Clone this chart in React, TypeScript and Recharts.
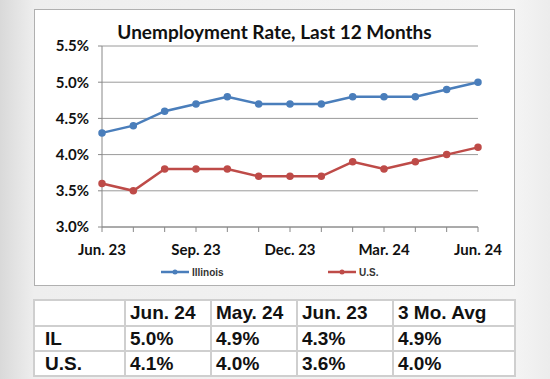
import { LineChart, Line, XAxis, YAxis, CartesianGrid, Legend } from 'recharts'

const MONTHS = [
  'Jun. 23', 'Jul. 23', 'Aug. 23', 'Sep. 23', 'Oct. 23', 'Nov. 23', 'Dec. 23',
  'Jan. 24', 'Feb. 24', 'Mar. 24', 'Apr. 24', 'May. 24', 'Jun. 24',
]
const ILLINOIS = [4.3, 4.4, 4.6, 4.7, 4.8, 4.7, 4.7, 4.7, 4.8, 4.8, 4.8, 4.9, 5.0]
const US = [3.6, 3.5, 3.8, 3.8, 3.8, 3.7, 3.7, 3.7, 3.9, 3.8, 3.9, 4.0, 4.1]
const LABELED = ['Jun. 23', 'Sep. 23', 'Dec. 23', 'Mar. 24', 'Jun. 24']
const Y_TICKS = [3.0, 3.5, 4.0, 4.5, 5.0, 5.5]

const TABLE_HEAD = ['', 'Jun. 24', 'May. 24', 'Jun. 23', '3 Mo. Avg']
const TABLE_ROWS = [
  ['IL', '5.0%', '4.9%', '4.3%', '4.9%'],
  ['U.S.', '4.1%', '4.0%', '3.6%', '4.0%'],
]
const COL_WIDTHS = [91, 86, 86, 96, 122]
const ROW_HEIGHTS = [26, 25, 25]

const data = MONTHS.map((m, i) => ({ month: m, il: ILLINOIS[i], us: US[i] }))

const BLUE = '#4a7ebb'
const RED = '#be4b48'
const FONT = 'Lato, "Open Sans", sans-serif'

const LegendItem = ({ color, label, left }: { color: string; label: string; left: number }) => (
  <div style={{ position: 'absolute', left, top: 0, display: 'flex', alignItems: 'center', height: 12 }}>
    <svg width={29} height={10}>
      <line x1={0} y1={5} x2={28} y2={5} stroke={color} strokeWidth={2.5} />
      <circle cx={14} cy={5} r={2.5} fill={color} />
    </svg>
    <span style={{ marginLeft: 2 }}>{label}</span>
  </div>
)

const renderLegend = () => (
  <div style={{ position: 'relative', height: 12, fontFamily: 'Arial, "Liberation Sans"', fontSize: 10, fontWeight: 'bold', color: '#333' }}>
    <LegendItem color={BLUE} label='Illinois' left={127} />
    <LegendItem color={RED} label='U.S.' left={294} />
  </div>
)

export default function App() {
  return (
    <div
      style={{
        position: 'absolute',
        left: 0,
        top: 0,
        width: 550,
        height: 379,
        overflow: 'hidden',
        background: 'linear-gradient(to right, #d9d9d9 0px, #eeeeee 34px, #f4f4f4 515px, #ececec 550px)',
      }}
    >
      <div
        style={{
          position: 'absolute',
          left: 34,
          top: 9,
          width: 481,
          height: 277,
          boxSizing: 'border-box',
          background: '#fff',
          border: '1px solid #b0b0b0',
        }}
      >
        <div
          style={{
            position: 'absolute',
            left: 0,
            width: '100%',
            top: 10,
            textAlign: 'center',
            fontFamily: FONT,
            fontWeight: 'bold',
            fontSize: 19,
            color: '#111',
          }}
        >
          Unemployment Rate, Last 12 Months
        </div>
        <div style={{ position: 'absolute', left: -1, top: -1 }}>
          <LineChart
            width={481}
            height={277}
            data={data}
            margin={{ top: 37, right: 37, left: 8, bottom: 29 }}
          >
            <CartesianGrid vertical={false} stroke='#9a9a9a' strokeWidth={1} />
            <XAxis
              dataKey='month'
              interval={0}
              height={30}
              stroke='#888'
              tickSize={5}
              tickLine={{ stroke: '#888' }}
              tick={{ fill: '#111', fontFamily: FONT, fontWeight: 'bold', fontSize: 15 }}
              tickFormatter={(v: string) => (LABELED.includes(v) ? v : '')}
              dy={10}
            />
            <YAxis
              width={60}
              domain={[3.0, 5.5]}
              ticks={Y_TICKS}
              stroke='#888'
              tickSize={4}
              tick={{ fill: '#111', fontFamily: FONT, fontWeight: 'bold', fontSize: 15 }}
              tickFormatter={(v: number) => v.toFixed(1) + '%'}
              dx={-7}
            />
            <Legend verticalAlign='middle' align='center' content={renderLegend} wrapperStyle={{ top: 257, left: 0, width: 481 }} />
            <Line
              dataKey='il'
              name='Illinois'
              stroke={BLUE}
              strokeWidth={2.5}
              dot={{ r: 2.5, fill: BLUE, stroke: BLUE }}
              isAnimationActive={false}
            />
            <Line
              dataKey='us'
              name='U.S.'
              stroke={RED}
              strokeWidth={2.5}
              dot={{ r: 2.5, fill: RED, stroke: RED }}
              isAnimationActive={false}
            />
          </LineChart>
        </div>
      </div>
      <table
        style={{
          position: 'absolute',
          left: 33,
          top: 299,
          borderCollapse: 'collapse',
          background: '#fff',
          fontFamily: 'Arial, "Liberation Sans", sans-serif',
          fontWeight: 'bold',
          fontSize: 19,
          color: '#111',
          tableLayout: 'fixed',
        }}
      >
        <colgroup>
          {COL_WIDTHS.map((w, i) => (
            <col key={i} style={{ width: w }} />
          ))}
        </colgroup>
        <tbody>
          {[TABLE_HEAD, ...TABLE_ROWS].map((row, r) => (
            <tr key={r} style={{ height: ROW_HEIGHTS[r] }}>
              {row.map((cell, c) => (
                <td
                  key={c}
                  style={{
                    border: '2px solid #cfcfcf',
                    padding: c === 0 ? '0 0 0 10px' : '0 0 0 4px',
                    lineHeight: '20px',
                    whiteSpace: 'nowrap',
                  }}
                >
                  {cell}
                </td>
              ))}
            </tr>
          ))}
        </tbody>
      </table>
    </div>
  )
}
